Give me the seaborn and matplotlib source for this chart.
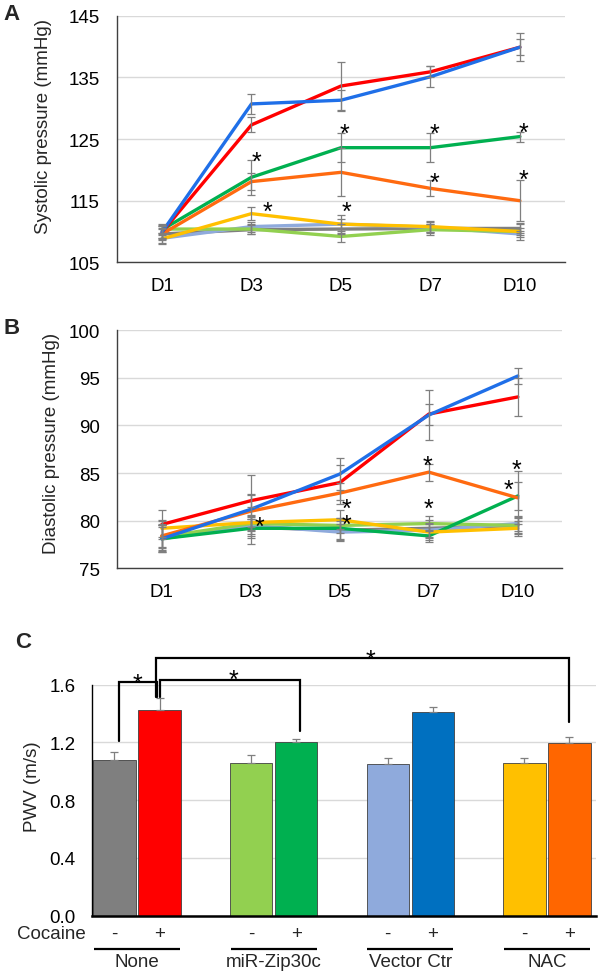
import numpy as np
import pandas as pd
import matplotlib
matplotlib.use("Agg")
import matplotlib.pyplot as plt
from matplotlib.ticker import FormatStrFormatter
import seaborn as sns

# ---------------- data ----------------
days = ["D1", "D3", "D5", "D7", "D10"]
groups = ["None", "miR-Zip30c", "Vector Ctr", "NAC"]
cocaine = ["-", "+"]
series = ["None -", "None +", "miR-Zip30c -", "miR-Zip30c +",
          "Vector Ctr -", "Vector Ctr +", "NAC -", "NAC +"]

# Systolic pressure (mmHg)
sys_vals = {
    "None -":       [109.6, 110.3, 110.4, 110.5, 110.5],
    "None +":       [109.9, 127.3, 133.6, 135.9, 139.9],
    "miR-Zip30c -": [110.4, 110.4, 109.2, 110.3, 110.0],
    "miR-Zip30c +": [110.3, 118.8, 123.6, 123.6, 125.4],
    "Vector Ctr -": [108.9, 110.8, 111.2, 110.7, 109.6],
    "Vector Ctr +": [109.9, 130.7, 131.3, 135.1, 139.9],
    "NAC -":        [108.8, 112.9, 111.2, 110.8, 110.0],
    "NAC +":        [109.6, 118.1, 119.6, 117.0, 115.0],
}
sys_err = {
    "None -":       [0.9, 0.7, 0.8, 0.8, 0.8],
    "None +":       [1.0, 1.2, 3.9, 0.9, 1.3],
    "miR-Zip30c -": [0.8, 0.8, 0.9, 0.9, 0.6],
    "miR-Zip30c +": [0.8, 2.8, 2.4, 2.4, 0.8],
    "Vector Ctr -": [0.8, 0.8, 0.8, 0.8, 0.5],
    "Vector Ctr +": [1.0, 1.6, 1.7, 1.7, 2.3],
    "NAC -":        [0.9, 1.1, 1.5, 0.9, 1.4],
    "NAC +":        [0.8, 1.4, 3.9, 1.3, 3.3],
}
# Diastolic pressure (mmHg)
dia_vals = {
    "None -":       [78.4, 79.3, 79.0, 79.2, 79.5],
    "None +":       [79.6, 82.1, 84.0, 91.2, 93.0],
    "miR-Zip30c -": [78.3, 79.7, 79.5, 79.7, 79.5],
    "miR-Zip30c +": [78.1, 79.2, 79.2, 78.4, 82.6],
    "Vector Ctr -": [78.1, 79.5, 78.8, 79.0, 79.7],
    "Vector Ctr +": [78.1, 81.2, 84.9, 91.1, 95.2],
    "NAC -":        [79.2, 79.8, 80.1, 78.8, 79.2],
    "NAC +":        [78.4, 81.0, 82.9, 85.1, 82.4],
}
dia_err = {
    "None -":       [1.2, 0.9, 1.0, 0.9, 0.9],
    "None +":       [1.5, 0.7, 1.8, 1.1, 2.0],
    "miR-Zip30c -": [1.2, 0.8, 0.8, 0.8, 0.8],
    "miR-Zip30c +": [1.4, 1.0, 1.1, 0.6, 1.5],
    "Vector Ctr -": [1.2, 0.9, 0.9, 0.8, 0.8],
    "Vector Ctr +": [1.4, 3.6, 1.7, 2.6, 0.8],
    "NAC -":        [0.9, 0.8, 1.0, 0.8, 0.8],
    "NAC +":        [1.6, 1.7, 1.1, 0.9, 2.8],
}
# PWV (m/s), order follows `series`
pwv_vals = [1.078, 1.428, 1.059, 1.202, 1.052, 1.412, 1.059, 1.197]
pwv_err = [0.055, 0.080, 0.053, 0.023, 0.038, 0.031, 0.035, 0.039]

line_colors = {
    "None -": "#7F7F7F", "None +": "#FF0000",
    "miR-Zip30c -": "#92D050", "miR-Zip30c +": "#00B050",
    "Vector Ctr -": "#8FAADC", "Vector Ctr +": "#1F6FE8",
    "NAC -": "#FFC000", "NAC +": "#FF6A10",
}
bar_colors = ["#7F7F7F", "#FF0000", "#92D050", "#00B050",
              "#8FAADC", "#0070C0", "#FFC000", "#FF6600"]
draw_order = ["None -", "Vector Ctr -", "miR-Zip30c -", "miR-Zip30c +",
              "NAC -", "NAC +", "None +", "Vector Ctr +"]

# significance stars (x = day index + small offset, y = value); "*\n*" = stacked pair
starsA_x = [1.06, 1.18, 2.04, 2.06, 3.05, 3.045, 4.035, 4.035]
starsA_y = [122.6, 114.5, 127.0, 114.5, 127.0, 119.1, 127.3, 119.6]
starsA_t = ["*"] * 8
starsB_x = [1.10, 2.08, 2.987, 3.0, 3.98, 3.89]
starsB_y = [80.2, 81.2, 86.6, 82.0, 86.1, 84.0]
starsB_t = ["*", "*\n*", "*", "*", "*", "*"]

# ---------------- style ----------------
sns.set_theme(style="white")
plt.rcParams["font.family"] = ["Liberation Sans", "DejaVu Sans"]
FS = 13.5
STAR_FS = 18
GRID = "#D9D9D9"
SPINE = "#404040"
ERR = "#7F7F7F"

fig = plt.figure(figsize=(6.0, 9.79), dpi=100)
axA = fig.add_axes([0.1955, 0.731, 0.7455, 0.2519])
axB = fig.add_axes([0.1955, 0.4185, 0.7417, 0.2431])
axC = fig.add_axes([0.1525, 0.0636, 0.841, 0.236])


def star(ax, x, y, t="*"):
    ax.annotate(t, (x, y), xytext=(0, -5.5), textcoords="offset points",
                ha="center", va="center", fontsize=STAR_FS, color="black",
                linespacing=0.58, zorder=6, annotation_clip=False)


def line_panel(ax, vals, errs, ylim, yticks, ylabel, lab_xy, sx, sy, st):
    rows = []
    for s in series:
        for i, d in enumerate(days):
            rows.append({"series": s, "day": d, "pos": i, "value": vals[s][i]})
    df = pd.DataFrame(rows)
    sns.lineplot(data=df, x="pos", y="value", hue="series", hue_order=draw_order,
                 palette=line_colors, linewidth=2.4, legend=False, ax=ax,
                 errorbar=None, zorder=2)
    for s in draw_order:
        sub = df[df["series"] == s]
        ax.errorbar(sub["pos"], sub["value"], yerr=errs[s], fmt="none",
                    ecolor=ERR, elinewidth=0.9, capsize=2.6, capthick=0.9,
                    zorder=3)
    for x, y, t in zip(sx, sy, st):
        star(ax, x, y, t)
    ax.set_xlim(-0.5, len(days) - 0.5)
    ax.set_ylim(*ylim)
    ax.set_xticks(range(len(days)))
    ax.set_xticklabels(days)
    ax.set_yticks(yticks)
    ax.yaxis.grid(True, color=GRID, linewidth=1.0)
    ax.set_axisbelow(True)
    ax.tick_params(axis="both", length=0, labelsize=FS, colors="black")
    ax.tick_params(axis="y", pad=12.5)
    ax.tick_params(axis="x", pad=10.5)
    for sp in ["top", "right"]:
        ax.spines[sp].set_visible(False)
    for sp in ["left", "bottom"]:
        ax.spines[sp].set_color(SPINE)
        ax.spines[sp].set_linewidth(1.0)
    ax.set_xlabel("")
    ax.set_ylabel(ylabel, fontsize=FS, va="center")
    ax.yaxis.set_label_coords(*lab_xy)


line_panel(axA, sys_vals, sys_err, (105, 145), [105, 115, 125, 135, 145],
           "Systolic pressure (mmHg)", (-0.165, 0.553), starsA_x, starsA_y, starsA_t)
line_panel(axB, dia_vals, dia_err, (75, 100), [75, 80, 85, 90, 95, 100],
           "Diastolic pressure (mmHg)", (-0.147, 0.527), starsB_x, starsB_y, starsB_t)

# ---------------- panel C ----------------
dfC = pd.DataFrame({
    "group": [g for g in groups for _ in cocaine],
    "cocaine": [c for _ in groups for c in cocaine],
    "pwv": pwv_vals,
})
sns.barplot(data=dfC, x="group", y="pwv", hue="cocaine", order=groups,
            hue_order=cocaine, width=0.66, gap=0.06, errorbar=None,
            legend=False, ax=axC, edgecolor="#404040", linewidth=0.6, zorder=2)
for p in axC.patches:
    xc = p.get_x() + p.get_width() / 2
    gi = int(round(xc))
    hi = 0 if xc < gi else 1
    p.set_facecolor(bar_colors[gi * 2 + hi])

offs = 0.165
bar_x = [gi + (-offs if c == "-" else offs) for gi in range(len(groups)) for c in cocaine]
axC.errorbar(bar_x, pwv_vals, yerr=[np.zeros(len(pwv_err)), pwv_err], fmt="none",
             ecolor=ERR, elinewidth=0.9, capsize=3.0, capthick=0.9, zorder=3)

axC.set_xlim(-0.333, 3.36)
axC.set_ylim(0, 1.6)
axC.set_yticks([0.0, 0.4, 0.8, 1.2, 1.6])
axC.yaxis.set_major_formatter(FormatStrFormatter("%.1f"))
axC.yaxis.grid(True, color=GRID, linewidth=1.0)
axC.set_axisbelow(True)
axC.set_xticks([])
axC.tick_params(axis="y", length=0, labelsize=FS, colors="black", pad=11.5)
for sp in ["top", "right"]:
    axC.spines[sp].set_visible(False)
axC.spines["left"].set_color("black")
axC.spines["left"].set_linewidth(1.0)
axC.spines["bottom"].set_color("black")
axC.spines["bottom"].set_linewidth(1.8)
axC.set_xlabel("")
axC.set_ylabel("PWV (m/s)", fontsize=FS, va="center")
axC.yaxis.set_label_coords(-0.1166, 0.565)

# cocaine +/- row, group underlines and names
for x, c in zip(bar_x, [c for _ in groups for c in cocaine]):
    axC.text(x, -0.125, c, ha="center", va="center", fontsize=FS, clip_on=False)
axC.text(-0.378, -0.125, "Cocaine", ha="right", va="center", fontsize=FS,
         clip_on=False)
for gi, g in enumerate(groups):
    axC.plot([gi - 0.315, gi + 0.315], [-0.232, -0.232], color="black",
             lw=1.6, clip_on=False, solid_capstyle="butt")
    axC.text(gi, -0.318, g, ha="center", va="center", fontsize=FS, clip_on=False)

# significance brackets
bk = dict(color="black", lw=1.6, clip_on=False, zorder=6, solid_joinstyle="miter")
axC.plot([-0.13, -0.13, 0.145, 0.145], [1.21, 1.618, 1.618, 1.517], **bk)
axC.plot([0.165, 0.165, 1.193, 1.193], [1.517, 1.63, 1.63, 1.278], **bk)
axC.plot([0.137, 0.137, 3.164, 3.164], [1.517, 1.784, 1.784, 1.34], **bk)
for x, y in [(0.005, 1.657), (0.706, 1.683), (1.706, 1.823)]:
    star(axC, x, y)

# panel letters
for lab, x, y in [("A", 12, 15), ("B", 12, 329), ("C", 23, 643)]:
    fig.text(x / 600, 1 - y / 979, lab, ha="center", va="center",
             fontsize=16, fontweight="bold")

fig.savefig("out.png", dpi=100)
